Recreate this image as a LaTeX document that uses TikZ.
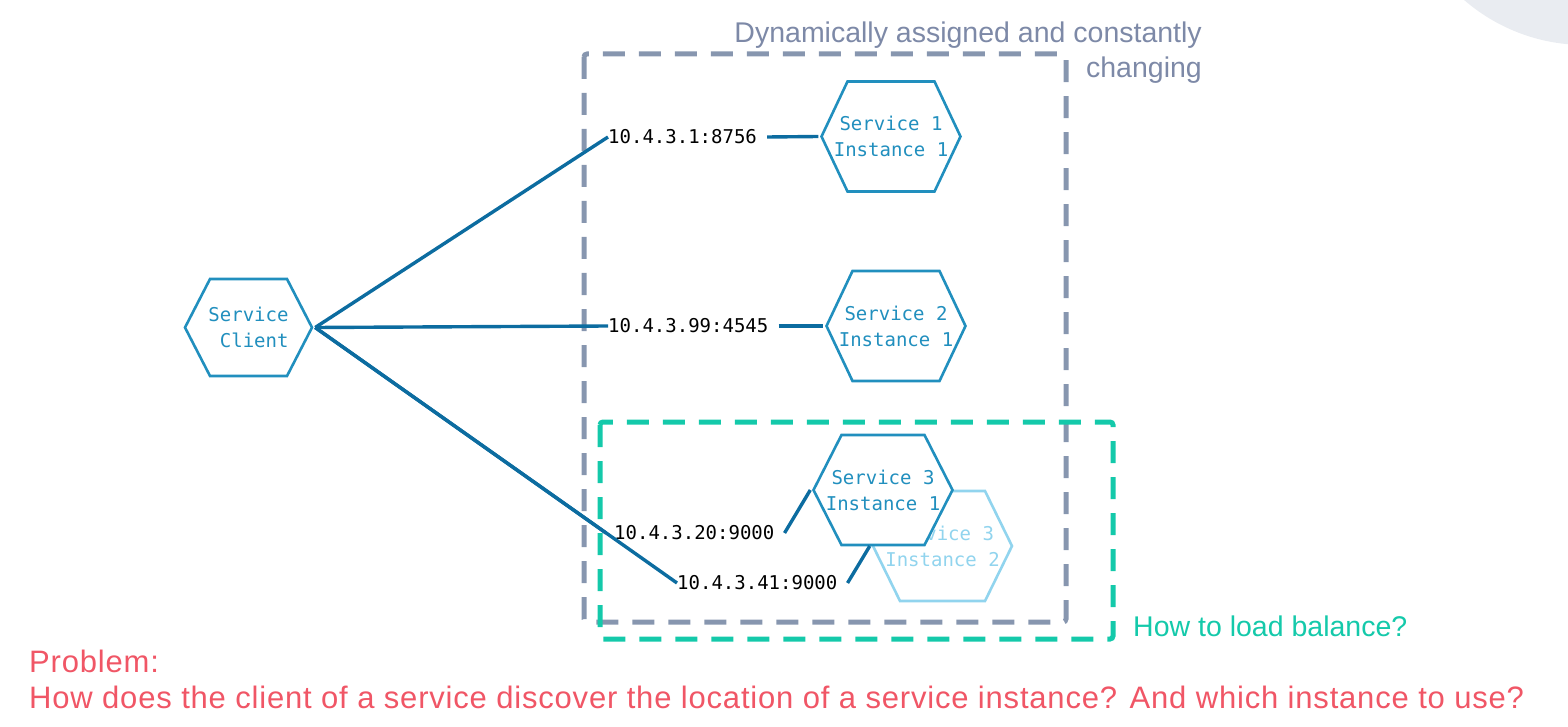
\documentclass[tikz,border=0pt]{standalone}
\usepackage{fontspec}
\setmainfont{Liberation Sans}
\newfontfamily\monofont{DejaVu Sans Mono}
\definecolor{svcblue}{RGB}{33,143,190}
\definecolor{linkblue}{RGB}{12,108,160}
\definecolor{fadedblue}{RGB}{145,212,238}
\definecolor{zonegray}{RGB}{135,150,175}
\definecolor{titlegray}{RGB}{125,137,167}
\definecolor{lbgreen}{RGB}{20,201,170}
\definecolor{probred}{RGB}{240,86,102}
\definecolor{cornergray}{RGB}{233,236,241}

\begin{document}
\begin{tikzpicture}[x=1pt, y=-1pt,
    hexa/.style n args={2}{minimum width=145pt, minimum height=113pt, inner sep=0pt, align=center,
      font=\monofont\fontsize{19}{26}\selectfont, text=#1,
      path picture={
        \filldraw[fill=white, draw=#1, line width=2.6pt, line join=miter]
          ([xshift=3pt]path picture bounding box.west)
          -- ([xshift=3pt+#2, yshift=-1.5pt]path picture bounding box.north west)
          -- ([xshift=-3pt-#2, yshift=-1.5pt]path picture bounding box.north east)
          -- ([xshift=-3pt]path picture bounding box.east)
          -- ([xshift=-3pt-#2, yshift=1.5pt]path picture bounding box.south east)
          -- ([xshift=3pt+#2, yshift=1.5pt]path picture bounding box.south west) -- cycle;
      }},
    ip/.style={font=\monofont\fontsize{19}{24}\selectfont, inner sep=0pt, anchor=west},
    link/.style={draw=linkblue, line width=3.4pt},
    zone/.style={line width=5pt, dash pattern=on 22pt off 14pt, rounded corners=3pt}]
  \useasboundingbox (0,0) rectangle (1568,727);
  \begin{scope}
    \clip (0,0) rectangle (1568,727);
    \fill[cornergray] (1585,-140) circle[radius=185];
  \end{scope}

  % zones
  \draw[zone, zonegray] (584,54) rectangle (1066,622);
  \draw[zone, lbgreen] (600,422) rectangle (1113,639);

  % service nodes
  \node[hexa={svcblue}{25pt}, minimum width=133pt, minimum height=100pt, align=right] (client) at (248.5,327.5) {Service\\Client};
  \node[hexa={svcblue}{26pt}] (s1) at (891,136.5) {Service 1\\Instance 1};
  \node[hexa={svcblue}{26pt}] (s2) at (896,326) {Service 2\\Instance 1};
  \node[hexa={fadedblue}{27pt}] (s3b) at (942.5,546) {Service 3\\Instance 2};
  \node[hexa={svcblue}{28pt}] (s3a) at (883,490) {Service 3\\Instance 1};

  % addresses
  \node[ip] (ip1) at (608,137) {10.4.3.1:8756};
  \node[ip] (ip2) at (608,326) {10.4.3.99:4545};
  \node[ip] (ip3) at (614,533) {10.4.3.20:9000};
  \node[ip] (ip4) at (677,583) {10.4.3.41:9000};

  \draw[link] (client.east) -- (ip1.west);
  \draw[link] (client.east) -- (ip2.west);
  \draw[link] (client.east) -- ([xshift=-8pt]ip3.west);
  \draw[link] (client.east) -- (ip4.west);
  \draw[link] ([xshift=10pt]ip1.east) -- (s1.west);
  \draw[link] ([xshift=10pt]ip2.east) -- (s2.west);
  \draw[link] ([xshift=10pt]ip3.east) -- (s3a.west);
  \draw[link] ([xshift=10pt]ip4.east) -- (s3b.west);

  % notes
  \node[anchor=north east, align=right, inner sep=0pt, text=titlegray, font=\fontsize{28.5}{35}\selectfont] (dyn) at (1202,22) {Dynamically assigned and constantly\\changing};
  \node[anchor=base west, inner sep=0pt, text=lbgreen, font=\fontsize{28.5}{34}\selectfont] (lb) at (1133,636) {How to load balance?};
  \node[anchor=north west, align=left, inner sep=0pt, text=probred, font=\fontsize{31}{36}\selectfont\addfontfeature{LetterSpace=2.6}] (problem) at (29,650) {Problem:\\How does the client of a service discover the location of a service instance? And which instance to use?};
\end{tikzpicture}
\end{document}
